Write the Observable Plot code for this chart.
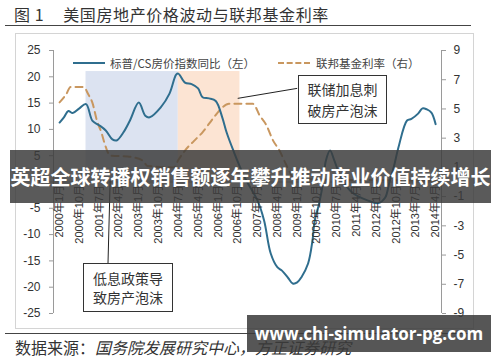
<!DOCTYPE html>
<html><head><meta charset="utf-8">
<script src="https://cdn.jsdelivr.net/npm/d3@7"></script>
<script src="https://cdn.jsdelivr.net/npm/@observablehq/plot@0.6"></script>
<style>
body{margin:0;background:#fff;}
#wrap{position:relative;width:500px;height:362px;overflow:hidden;background:#fff;font-family:"Noto Sans CJK SC",sans-serif;color:#333;}
.abs{position:absolute;}
#title{left:14px;top:3px;font-size:16px;line-height:22px;letter-spacing:0.6px;white-space:nowrap;color:#333;}
.hr{position:absolute;left:5px;width:466px;height:0;border-top:1.5px solid #444;}
#chart{position:absolute;left:0;top:33px;width:500px;height:295px;}
#box{position:absolute;left:15px;top:33px;width:457px;height:294px;border:1px solid #d4d4d4;pointer-events:none;}
.leg{position:absolute;font-size:11.5px;line-height:14px;white-space:nowrap;color:#444;}
.sw{position:absolute;width:32px;height:0;}
.note{position:absolute;box-sizing:border-box;border:1px solid #333;background:#fff;font-size:14px;text-align:center;color:#333;}
#caption{left:15px;top:337px;font-size:16px;line-height:20px;white-space:nowrap;color:#333;}
#banner{left:10px;top:150px;width:481px;height:53px;background:rgba(58,58,58,0.84);color:#fff;font-weight:bold;font-size:20px;line-height:53px;text-align:center;white-space:nowrap;}
#wm{left:247px;top:315px;width:244px;height:37px;background:rgba(58,58,58,0.86);color:#fff;font-family:"Open Sans",sans-serif;font-weight:bold;font-size:17px;line-height:37px;text-align:center;white-space:nowrap;}
</style></head><body>
<div id="wrap">
  <div id="title" class="abs">图 1<span style="margin-left:19px">美国房地产价格波动与联邦基金利率</span></div>
  <div class="hr" style="top:25px"></div>
  <div id="chart"></div>
  <div id="box"></div>
  <div class="sw" style="left:73px;top:62px;border-top:2px solid #2f6e8e"></div>
  <div class="leg" style="left:110px;top:56px">标普/CS房价指数同比（左）</div>
  <div class="sw" style="left:278px;top:62px;border-top:2px dashed #c9975f"></div>
  <div class="leg" style="left:316px;top:56px">联邦基金利率（右）</div>
  <div class="note" style="left:298px;top:75px;width:89px;height:49px;line-height:21px;padding-top:3px">联储加息刺<br>破房产泡沫</div>
  <div class="note" style="left:83px;top:263px;width:90px;height:49px;line-height:19px;padding-top:5px">低息政策导<br>致房产泡沫</div>
  <div class="hr" style="top:333px"></div>
  <div id="caption" class="abs">数据来源：<i>国务院发展研究中心，方正证券研究</i></div>
  <div id="banner" class="abs">英超全球转播权销售额逐年攀升推动商业价值持续增长</div>
  <div id="wm" class="abs">www.chi-simulator-pg.com</div>
</div>
<script>
// ---- data ----
const hpiMonths = ["2000-01","2000-03","2000-05","2000-07","2000-10","2001-01","2001-04","2001-07","2001-10","2002-01","2002-03","2002-06","2002-09","2003-01","2003-04","2003-06","2003-11","2004-03","2004-06","2004-07","2004-10","2005-01","2005-04","2005-06","2005-09","2005-12","2006-03","2006-05","2006-08","2007-01","2007-07","2007-10","2008-01","2008-04","2008-06","2008-09","2008-11","2009-01","2009-03","2009-06","2009-08","2009-09","2009-11","2010-01","2010-02","2010-04","2010-06","2010-09","2011-02","2011-09","2012-02","2012-05","2012-07","2012-09","2012-11","2013-03","2013-05","2013-08","2013-10","2013-12","2014-02","2014-04"];
const hpiValues = [11.3,12.3,13.5,13.1,14.0,14.8,11.6,10.8,9.8,8.1,7.9,9.4,11.7,15.1,12.6,12.3,14.2,16.8,20.4,20.6,18.9,18.6,17.8,16.1,15.9,15.4,12.3,9.4,6.0,1.0,-3.5,-7.3,-13.6,-16.2,-16.8,-18.3,-19.3,-19.1,-18.1,-15.5,-11.1,-7.3,-4.1,0.5,4.0,6.0,4.0,0.8,-2.0,-3.5,-4.0,-3.0,0.0,3.0,6.5,11.7,12.0,13.0,14.0,13.8,13.2,11.0];
const fedMonths = ["2000-01","2000-04","2000-06","2000-12","2001-02","2001-04","2001-06","2001-08","2001-10","2001-12","2002-08","2002-10","2003-03","2003-05","2004-05","2004-07","2004-10","2005-02","2005-06","2005-11","2006-03","2006-06","2007-05","2007-08","2007-11","2008-02","2008-05","2008-08","2008-12","2014-05"];
const fedValues = [5.45,6.0,6.5,6.5,6.0,5.4,4.2,3.4,2.4,1.8,1.75,1.7,1.45,1.1,1.0,1.5,2.15,2.8,3.4,4.4,5.1,5.35,5.35,4.55,3.9,2.85,2.15,1.2,0.2,0.1];
const xTickMonths = ["2000-01","2000-10","2001-07","2002-04","2003-01","2003-10","2004-07","2005-04","2006-01","2006-10","2007-07","2008-04","2009-01","2009-10","2010-07","2011-04","2012-01","2012-10","2013-07","2014-04"];
const leftTicks = [-25,-20,-15,-10,-5,0,5,10,15,20,25];
const rightTicks = [-9,-7,-5,-3,-1,1,3,5,7,9];
const periodStarts = ["2001-01","2004-07"];
const periodEnds = ["2004-07","2006-11"];
const periodTop = [21,21];
const periodColors = ["#dce3f1","#fce4d3"];
// annotation pointers [month, left-axis value]
const pointerFrom = [["2006-10",15.9],["2001-12",0.3]];
const pointerTo = [["2009-01",17.8],["2001-11",-15.5]];

const parse = d3.utcParse("%Y-%m");
const k = 25 / 9; // right axis -> left axis units
const hpi = hpiMonths.map((m, i) => ({date: parse(m), value: hpiValues[i]}));
const fed = fedMonths.map((m, i) => ({date: parse(m), rate: fedValues[i]}));
const periods = periodStarts.map((s, i) => ({start: parse(s), end: parse(periodEnds[i]), top: periodTop[i], color: periodColors[i]}));
const xTicks = xTickMonths.map(parse);
const pointers = pointerFrom.map((f, i) => ({x1: parse(f[0]), y1: f[1], x2: parse(pointerTo[i][0]), y2: pointerTo[i][1]}));
const xDomain = [new Date(Date.UTC(1999, 9, 9)), new Date(Date.UTC(2014, 5, 21))];

const chart = Plot.plot({
  width: 500, height: 295,
  marginTop: 17, marginBottom: 15, marginLeft: 53, marginRight: 59,
  style: {background: "transparent", fontFamily: "'Liberation Sans','Noto Sans CJK SC',sans-serif", fontSize: "12px", color: "#333", overflow: "visible"},
  x: {type: "utc", domain: xDomain, axis: null},
  y: {domain: [-25, 25]},
  marks: [
    Plot.rect(periods, {x1: "start", x2: "end", y1: 0, y2: "top", fill: "color"}),
    Plot.ruleY([0], {stroke: "#a8a8a8", strokeWidth: 1}),
    Plot.line(fed, {x: "date", y: d => d.rate * k, stroke: "#c9975f", strokeWidth: 2, strokeDasharray: "7,5", curve: "monotone-x"}),
    Plot.line(hpi, {x: "date", y: "value", stroke: "#2f6e8e", strokeWidth: 2, curve: "catmull-rom"}),
    Plot.ruleX([xDomain[0], xDomain[1]], {y1: -25, y2: 25, stroke: "#9a9a9a"}),
    Plot.axisY(leftTicks, {anchor: "left", tickSize: 4, tickPadding: 9, tickFormat: d => String(d), stroke: "#9a9a9a", fill: "#333", fontSize: 12}),
    Plot.axisY(rightTicks.map(t => t * k), {anchor: "right", tickSize: 4, tickPadding: 8, tickFormat: d => String(Math.round(d / k)), stroke: "#9a9a9a", fill: "#333", fontSize: 12}),
    Plot.text(xTicks, {x: d => d, y: 0, text: d => `${d.getUTCFullYear()}年${d.getUTCMonth() + 1}月`, rotate: -90, textAnchor: "end", dy: 3, fontSize: 11, fill: "#333"}),
    Plot.link(pointers, {x1: "x1", y1: "y1", x2: "x2", y2: "y2", stroke: "#222", strokeWidth: 1})
  ]
});
document.getElementById("chart").appendChild(chart);
</script>
</body></html>
